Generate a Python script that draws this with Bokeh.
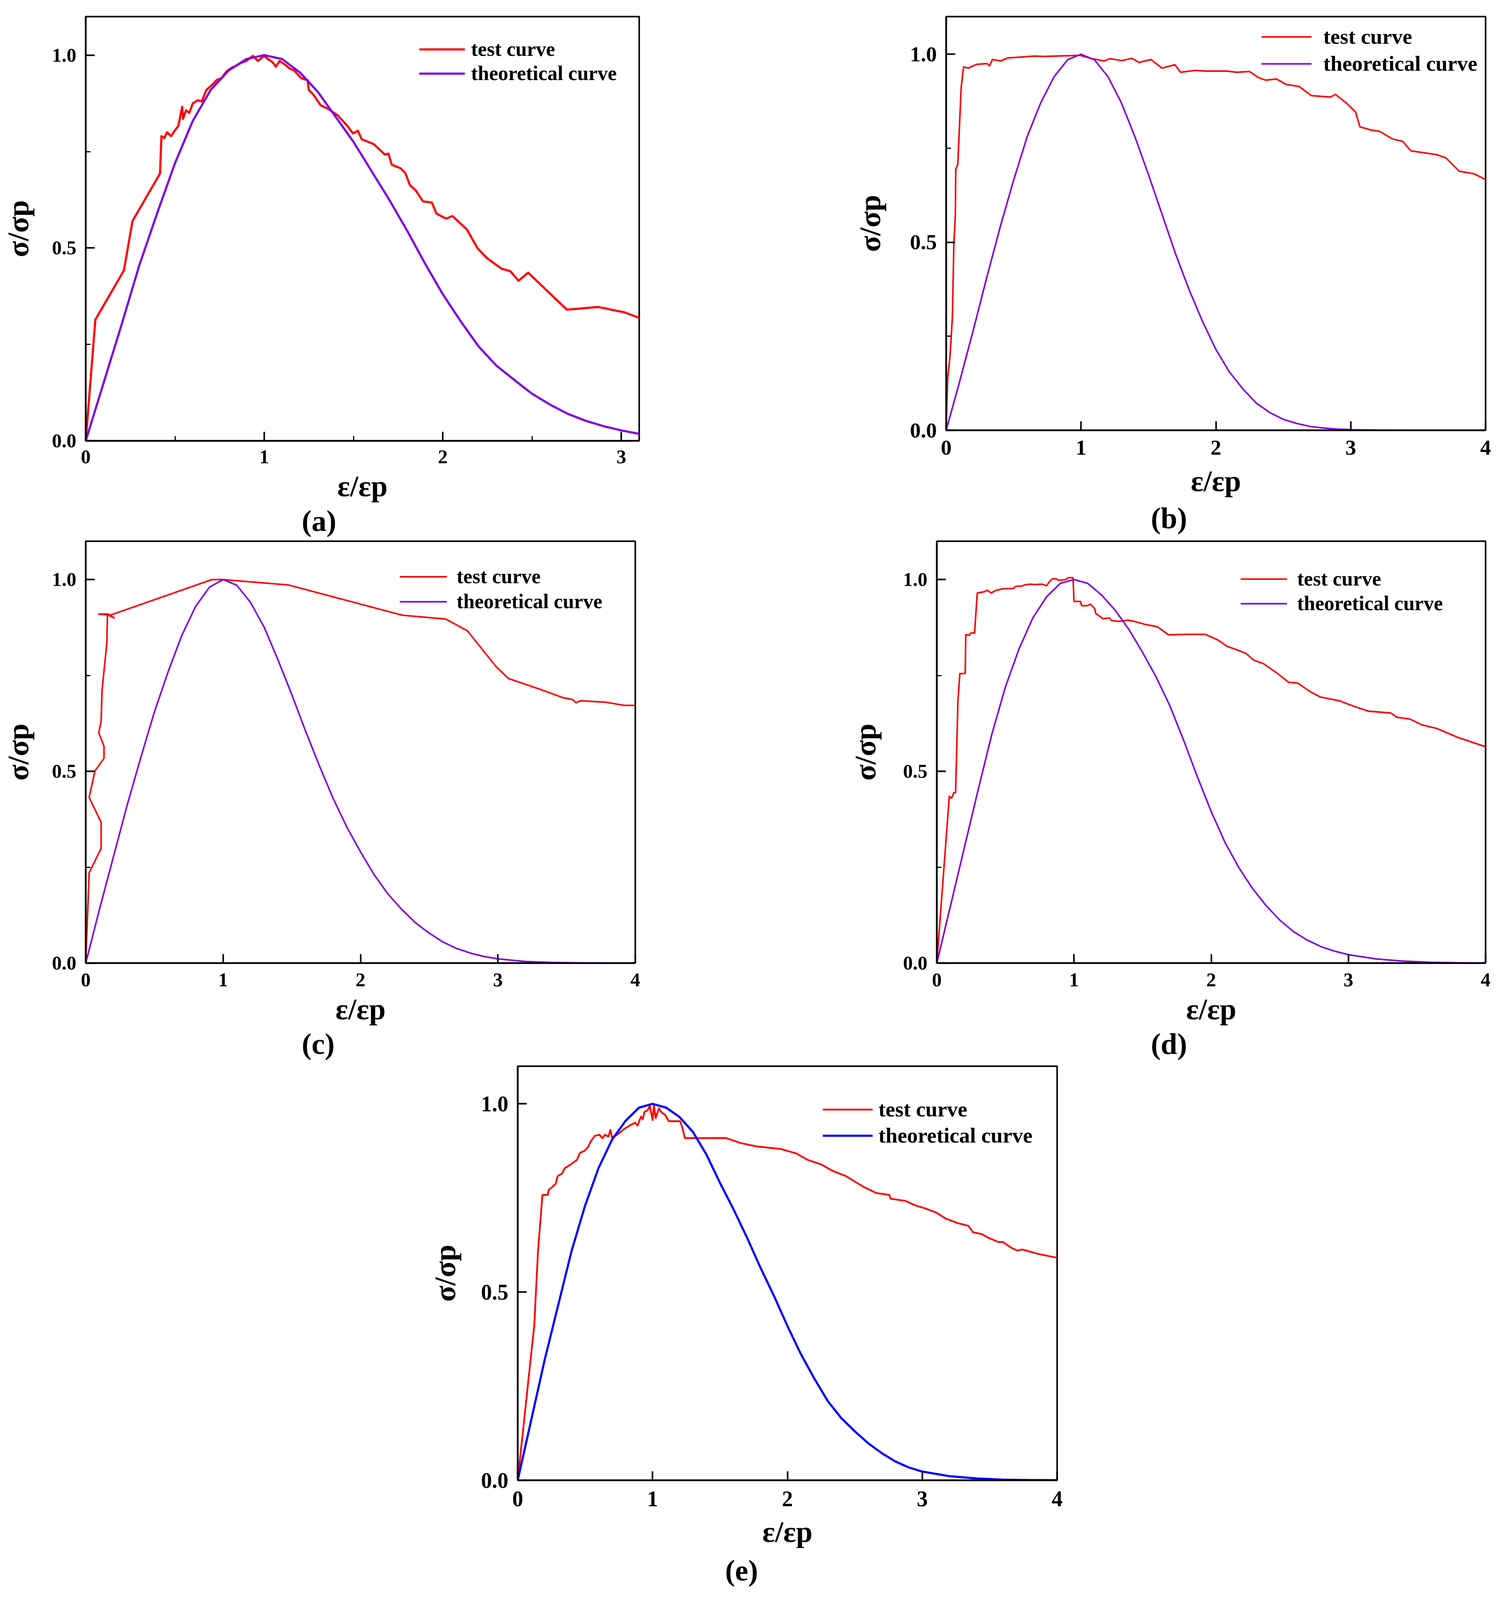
from bokeh.plotting import figure
from bokeh.models import Range1d, FixedTicker, NumeralTickFormatter, Legend, LegendItem, Title
from bokeh.layouts import row, column
from bokeh.embed import file_html
from bokeh.resources import INLINE

# ---------------- data ----------------
series_labels = ["test curve", "theoretical curve"]
x_label = "ε/εp"
y_label = "σ/σp"
panel_letters = ["(a)", "(b)", "(c)", "(d)", "(e)"]
y_ticks = [0.0, 0.5, 1.0]

a_test = [(0, 0), (0.054, 0.314), (0.214, 0.442), (0.262, 0.57), (0.416, 0.693), (0.424, 0.79),
          (0.44, 0.785), (0.455, 0.80), (0.478, 0.79), (0.50, 0.805), (0.519, 0.817), (0.54, 0.866),
          (0.545, 0.835), (0.562, 0.857), (0.58, 0.85), (0.60, 0.875), (0.627, 0.883), (0.65, 0.88),
          (0.676, 0.91), (0.708, 0.923), (0.735, 0.936), (0.76, 0.94), (0.789, 0.958), (0.816, 0.967),
          (0.84, 0.972), (0.87, 0.98), (0.90, 0.985), (0.924, 0.994), (0.937, 0.998), (0.964, 0.985),
          (1.0, 0.998), (1.02, 0.99), (1.046, 0.982), (1.065, 0.97), (1.086, 0.985), (1.118, 0.975),
          (1.141, 0.966), (1.168, 0.96), (1.208, 0.94), (1.243, 0.935), (1.249, 0.91), (1.276, 0.897),
          (1.316, 0.87), (1.357, 0.861), (1.411, 0.844), (1.465, 0.817), (1.497, 0.797), (1.524, 0.804),
          (1.546, 0.782), (1.614, 0.769), (1.676, 0.742), (1.695, 0.745), (1.714, 0.716), (1.762, 0.707),
          (1.789, 0.695), (1.816, 0.663), (1.849, 0.649), (1.889, 0.621), (1.938, 0.618), (1.965, 0.589),
          (2.019, 0.576), (2.054, 0.583), (2.135, 0.548), (2.195, 0.499), (2.249, 0.473), (2.33, 0.446),
          (2.378, 0.44), (2.424, 0.415), (2.478, 0.436), (2.695, 0.34), (2.87, 0.347), (3.019, 0.333),
          (3.105, 0.318)]
a_theory = [(0, 0), (0.1, 0.15), (0.2, 0.30), (0.3, 0.455), (0.4, 0.59), (0.5, 0.72), (0.6, 0.83),
            (0.7, 0.91), (0.8, 0.96), (0.9, 0.99), (1.0, 1.0), (1.1, 0.99), (1.2, 0.955), (1.3, 0.905),
            (1.4, 0.84), (1.5, 0.775), (1.6, 0.70), (1.7, 0.625), (1.8, 0.545), (1.9, 0.46), (2.0, 0.38),
            (2.1, 0.31), (2.2, 0.245), (2.3, 0.195), (2.4, 0.158), (2.5, 0.122), (2.6, 0.094),
            (2.7, 0.07), (2.8, 0.052), (2.9, 0.038), (3.0, 0.027), (3.1, 0.018)]

b_test = [(0, 0), (0.011, 0.137), (0.029, 0.2), (0.046, 0.3), (0.057, 0.499), (0.068, 0.572),
          (0.071, 0.694), (0.086, 0.707), (0.111, 0.911), (0.129, 0.966), (0.164, 0.963), (0.225, 0.973),
          (0.304, 0.975), (0.321, 0.969), (0.343, 0.986), (0.404, 0.982), (0.457, 0.99), (0.654, 0.995),
          (0.725, 0.994), (0.99, 0.997), (1.082, 0.988), (1.171, 0.982), (1.214, 0.988), (1.304, 0.983),
          (1.379, 0.989), (1.429, 0.978), (1.518, 0.986), (1.6, 0.963), (1.696, 0.972), (1.739, 0.952),
          (1.85, 0.957), (1.921, 0.955), (2.082, 0.955), (2.154, 0.952), (2.25, 0.954), (2.314, 0.938),
          (2.368, 0.931), (2.45, 0.934), (2.518, 0.92), (2.618, 0.914), (2.707, 0.89), (2.85, 0.886),
          (2.886, 0.893), (2.968, 0.87), (3.036, 0.846), (3.068, 0.807), (3.154, 0.798), (3.214, 0.795),
          (3.307, 0.775), (3.386, 0.768), (3.446, 0.743), (3.636, 0.733), (3.707, 0.724), (3.804, 0.689),
          (3.914, 0.682), (4.0, 0.667)]
b_theory = [(0, 0), (0.1, 0.13), (0.2, 0.265), (0.3, 0.405), (0.4, 0.54), (0.5, 0.665), (0.6, 0.78),
            (0.7, 0.87), (0.8, 0.94), (0.9, 0.985), (1.0, 1.0), (1.1, 0.985), (1.2, 0.94), (1.3, 0.87),
            (1.4, 0.78), (1.5, 0.68), (1.6, 0.575), (1.7, 0.47), (1.8, 0.375), (1.9, 0.29), (2.0, 0.215),
            (2.1, 0.155), (2.2, 0.11), (2.3, 0.072), (2.4, 0.047), (2.5, 0.029), (2.6, 0.018), (2.7, 0.01),
            (2.8, 0.006), (2.9, 0.003), (3.0, 0.0015), (3.2, 0.0005), (3.5, 0.0), (4.0, 0.0)]

c_test = [(0, 0), (0.025, 0.236), (0.112, 0.299), (0.112, 0.367), (0.025, 0.432), (0.067, 0.501),
          (0.133, 0.534), (0.133, 0.565), (0.095, 0.6), (0.112, 0.632), (0.119, 0.712), (0.154, 0.836),
          (0.158, 0.908), (0.095, 0.91), (0.165, 0.91), (0.207, 0.9), (0.17, 0.906), (0.919, 1.0),
          (1.0, 1.0), (1.474, 0.986), (2.305, 0.907), (2.621, 0.897), (2.779, 0.866), (2.989, 0.772),
          (3.077, 0.742), (3.305, 0.714), (3.474, 0.692), (3.544, 0.687), (3.568, 0.679), (3.604, 0.684),
          (3.789, 0.68), (3.919, 0.672), (4.0, 0.672)]
c_theory = [(0, 0), (0.1, 0.14), (0.2, 0.275), (0.3, 0.41), (0.4, 0.535), (0.5, 0.655), (0.6, 0.76),
            (0.7, 0.855), (0.8, 0.93), (0.9, 0.98), (1.0, 1.0), (1.1, 0.985), (1.2, 0.94), (1.3, 0.875),
            (1.4, 0.79), (1.5, 0.70), (1.6, 0.605), (1.7, 0.515), (1.8, 0.43), (1.9, 0.355), (2.0, 0.29),
            (2.1, 0.23), (2.2, 0.18), (2.3, 0.14), (2.4, 0.105), (2.5, 0.078), (2.6, 0.055), (2.7, 0.038),
            (2.8, 0.026), (2.9, 0.017), (3.0, 0.011), (3.2, 0.004), (3.4, 0.0015), (3.6, 0.0005),
            (4.0, 0.0)]

d_test = [(0, 0), (0.091, 0.435), (0.105, 0.43), (0.116, 0.436), (0.123, 0.444), (0.137, 0.445),
          (0.154, 0.685), (0.168, 0.755), (0.207, 0.755), (0.211, 0.856), (0.239, 0.855), (0.245, 0.86),
          (0.26, 0.861), (0.275, 0.86), (0.295, 0.965), (0.344, 0.968), (0.368, 0.972), (0.396, 0.965),
          (0.432, 0.972), (0.484, 0.976), (0.561, 0.977), (0.572, 0.982), (0.618, 0.983), (0.642, 0.986),
          (0.677, 0.988), (0.712, 0.987), (0.765, 0.988), (0.8, 0.984), (0.818, 0.993), (0.842, 1.002),
          (0.87, 1.002), (0.888, 0.998), (0.94, 1.0), (0.958, 1.005), (0.993, 1.005), (1.0, 0.943),
          (1.046, 0.943), (1.056, 0.932), (1.098, 0.932), (1.12, 0.936), (1.151, 0.924), (1.158, 0.912),
          (1.211, 0.898), (1.256, 0.9), (1.274, 0.893), (1.326, 0.891), (1.396, 0.894), (1.449, 0.89),
          (1.519, 0.883), (1.607, 0.877), (1.688, 0.856), (1.835, 0.857), (1.958, 0.857), (2.046, 0.843),
          (2.116, 0.826), (2.186, 0.817), (2.256, 0.807), (2.309, 0.79), (2.379, 0.781), (2.484, 0.755),
          (2.565, 0.732), (2.632, 0.73), (2.712, 0.71), (2.793, 0.694), (2.933, 0.684), (3.028, 0.671),
          (3.144, 0.657), (3.309, 0.652), (3.354, 0.641), (3.449, 0.636), (3.537, 0.621), (3.642, 0.612),
          (3.8, 0.588), (4.0, 0.564)]
d_theory = [(0, 0), (0.1, 0.15), (0.2, 0.30), (0.3, 0.45), (0.4, 0.595), (0.5, 0.72), (0.6, 0.82),
            (0.7, 0.90), (0.8, 0.955), (0.9, 0.99), (1.0, 1.0), (1.1, 0.99), (1.2, 0.96), (1.3, 0.92),
            (1.4, 0.87), (1.5, 0.81), (1.6, 0.745), (1.7, 0.67), (1.8, 0.58), (1.9, 0.485), (2.0, 0.395),
            (2.1, 0.315), (2.2, 0.25), (2.3, 0.195), (2.4, 0.15), (2.5, 0.112), (2.6, 0.082), (2.7, 0.06),
            (2.8, 0.043), (2.9, 0.031), (3.0, 0.022), (3.2, 0.011), (3.4, 0.005), (3.6, 0.002),
            (3.8, 0.0008), (4.0, 0.0003)]

e_test = [(0, 0), (0.123, 0.413), (0.15, 0.606), (0.183, 0.758), (0.223, 0.758), (0.229, 0.771),
          (0.256, 0.779), (0.282, 0.788), (0.296, 0.808), (0.329, 0.815), (0.349, 0.829), (0.389, 0.838),
          (0.439, 0.851), (0.462, 0.87), (0.495, 0.875), (0.522, 0.885), (0.539, 0.899), (0.572, 0.915),
          (0.605, 0.918), (0.628, 0.909), (0.648, 0.918), (0.672, 0.913), (0.688, 0.931), (0.698, 0.911),
          (0.738, 0.918), (0.788, 0.933), (0.838, 0.944), (0.871, 0.95), (0.888, 0.942), (0.914, 0.966),
          (0.927, 0.959), (0.94, 0.979), (0.964, 0.983), (0.98, 0.995), (1.0, 0.957), (1.01, 0.995),
          (1.023, 0.962), (1.047, 0.988), (1.07, 0.976), (1.094, 0.971), (1.12, 0.954), (1.204, 0.954),
          (1.22, 0.938), (1.24, 0.909), (1.546, 0.909), (1.652, 0.896), (1.769, 0.887), (1.952, 0.88),
          (2.068, 0.868), (2.151, 0.851), (2.251, 0.839), (2.334, 0.822), (2.434, 0.808), (2.567, 0.779),
          (2.66, 0.763), (2.756, 0.758), (2.766, 0.748), (2.876, 0.742), (2.943, 0.731), (3.016, 0.723),
          (3.099, 0.712), (3.175, 0.695), (3.265, 0.683), (3.342, 0.676), (3.375, 0.659), (3.441, 0.654),
          (3.491, 0.644), (3.564, 0.633), (3.597, 0.633), (3.664, 0.617), (3.707, 0.61), (3.741, 0.613),
          (3.864, 0.601), (4.0, 0.591)]
e_theory = [(0, 0), (0.1, 0.16), (0.2, 0.32), (0.3, 0.465), (0.4, 0.61), (0.5, 0.73), (0.6, 0.83),
            (0.7, 0.905), (0.8, 0.955), (0.9, 0.99), (1.0, 1.0), (1.1, 0.99), (1.2, 0.965), (1.3, 0.925),
            (1.4, 0.865), (1.5, 0.79), (1.6, 0.72), (1.7, 0.645), (1.8, 0.565), (1.9, 0.49), (2.0, 0.41),
            (2.1, 0.335), (2.2, 0.27), (2.3, 0.21), (2.4, 0.165), (2.5, 0.13), (2.6, 0.098), (2.7, 0.072),
            (2.8, 0.05), (2.9, 0.034), (3.0, 0.023), (3.2, 0.011), (3.4, 0.005), (3.6, 0.0015),
            (3.8, 0.0005), (4.0, 0.0002)]

# ---------------- styling ----------------
FONT = "Liberation Serif"
RED = "#FF0000"
PURPLE = "#7F00E0"
BLUE = "#0000FF"


def make_panel(test, theory, letter, theo_color, lw_test, lw_theo, xmax, x_major, x_minor, y_minor,
               fw, fh, bl, br, bt, bb, leg_x, leg_c1, leg_c2, ih, glyph_w, leg_standoff,
               tick_fs, leg_fs, ylab_standoff, xtick_standoff, xlab_standoff,
               title_offset, title_standoff):
    p = figure(frame_width=fw, frame_height=fh,
               x_range=Range1d(0, xmax), y_range=Range1d(0, 1.1),
               output_backend="svg", toolbar_location=None,
               min_border_left=bl, min_border_right=br, min_border_top=bt, min_border_bottom=bb,
               background_fill_color="white", border_fill_color="white")
    p.grid.visible = False
    p.outline_line_color = "black"
    p.outline_line_width = 4
    p.outline_line_alpha = 1.0

    tx = [pt[0] for pt in test]
    ty = [pt[1] for pt in test]
    hx = [pt[0] for pt in theory]
    hy = [pt[1] for pt in theory]
    r_test = p.line(tx, ty, line_color=RED, line_width=lw_test, line_join="round")
    r_theo = p.line(hx, hy, line_color=theo_color, line_width=lw_theo, line_join="round")

    for ax in (p.xaxis[0], p.yaxis[0]):
        ax.axis_line_color = "black"
        ax.axis_line_width = 4
        ax.major_tick_line_color = "black"
        ax.major_tick_line_width = 4
        ax.minor_tick_line_color = "black"
        ax.minor_tick_line_width = 3
        ax.major_tick_in = 23
        ax.major_tick_out = 0
        ax.minor_tick_in = 12
        ax.minor_tick_out = 0
        ax.major_label_text_font = FONT
        ax.major_label_text_font_style = "bold"
        ax.major_label_text_font_size = f"{tick_fs}px"
        ax.major_label_text_color = "black"
        ax.axis_label_text_font = FONT
        ax.axis_label_text_font_style = "bold"
        ax.axis_label_text_font_size = "76px"
        ax.axis_label_text_color = "black"

    p.xaxis[0].ticker = FixedTicker(ticks=x_major, minor_ticks=x_minor)
    p.xaxis[0].formatter = NumeralTickFormatter(format="0")
    p.xaxis[0].axis_label = x_label
    p.xaxis[0].major_label_standoff = xtick_standoff
    p.xaxis[0].axis_label_standoff = xlab_standoff

    p.yaxis[0].ticker = FixedTicker(ticks=y_ticks, minor_ticks=y_minor)
    p.yaxis[0].formatter = NumeralTickFormatter(format="0.0")
    p.yaxis[0].axis_label = y_label
    p.yaxis[0].major_label_standoff = 24
    p.yaxis[0].axis_label_standoff = ylab_standoff

    spacing = (leg_c2 - leg_c1) - ih
    ly = fh - (leg_c2 + ih // 2)
    legend = Legend(items=[LegendItem(label=series_labels[0], renderers=[r_test]),
                           LegendItem(label=series_labels[1], renderers=[r_theo])],
                    location=(leg_x, ly), padding=0, margin=0, spacing=spacing,
                    glyph_width=glyph_w, glyph_height=ih, label_height=ih,
                    label_standoff=leg_standoff,
                    border_line_alpha=0, background_fill_alpha=0,
                    label_text_font=FONT, label_text_font_style="bold",
                    label_text_font_size=f"{leg_fs}px", label_text_color="black")
    p.add_layout(legend)

    p.add_layout(Title(text=letter, align="left", offset=title_offset, standoff=title_standoff,
                       text_font=FONT, text_font_style="bold", text_font_size="76px",
                       text_color="black"), "below")
    return p


xt4 = [0, 1, 2, 3, 4]

fa = make_panel(a_test, a_theory, panel_letters[0], PURPLE, 5.5, 5.5, 3.1, [0, 1, 2, 3], [0.5, 1.5, 2.5],
                [0.25, 0.75], fw=1417, fh=1086, bl=211, br=100, bt=33, bb=259,
                leg_x=854, leg_c1=85, leg_c2=146, ih=58, glyph_w=117, leg_standoff=16,
                tick_fs=50, leg_fs=52, ylab_standoff=42, xtick_standoff=24, xlab_standoff=13,
                title_offset=553, title_standoff=0)
fb = make_panel(b_test, b_theory, panel_letters[1], PURPLE, 4, 4, 4, xt4, [],
                [0.25, 0.75], fw=1381, fh=1059, bl=686, br=30, bt=42, bb=277,
                leg_x=807, leg_c1=56, leg_c2=122, ih=60, glyph_w=129, leg_standoff=30,
                tick_fs=55, leg_fs=55, ylab_standoff=58, xtick_standoff=26, xlab_standoff=22,
                title_offset=524, title_standoff=12)
fc = make_panel(c_test, c_theory, panel_letters[2], PURPLE, 4, 4, 4, xt4, [],
                [0.25, 0.75], fw=1407, fh=1080, bl=211, br=100, bt=7, bb=256,
                leg_x=804, leg_c1=92, leg_c2=155, ih=58, glyph_w=121, leg_standoff=25,
                tick_fs=50, leg_fs=52, ylab_standoff=42, xtick_standoff=26, xlab_standoff=13,
                title_offset=553, title_standoff=0)
fd = make_panel(d_test, d_theory, panel_letters[3], PURPLE, 4, 4, 4, xt4, [],
                [0.25, 0.75], fw=1405, fh=1080, bl=672, br=30, bt=7, bb=256,
                leg_x=778, leg_c1=98, leg_c2=160, ih=58, glyph_w=119, leg_standoff=26,
                tick_fs=50, leg_fs=52, ylab_standoff=52, xtick_standoff=26, xlab_standoff=13,
                title_offset=548, title_standoff=0)
fe = make_panel(e_test, e_theory, panel_letters[4], BLUE, 4.5, 5.5, 4, xt4, [],
                [], fw=1381, fh=1060, bl=1325, br=30, bt=8, bb=285,
                leg_x=781, leg_c1=115, leg_c2=179, ih=60, glyph_w=128, leg_standoff=15,
                tick_fs=56, leg_fs=55, ylab_standoff=48, xtick_standoff=28, xlab_standoff=20,
                title_offset=531, title_standoff=21)

layout = column(row(fa, fb, spacing=0), row(fc, fd, spacing=0), fe, spacing=0)

with open("out.html", "w") as f:
    f.write(file_html(layout, INLINE))
